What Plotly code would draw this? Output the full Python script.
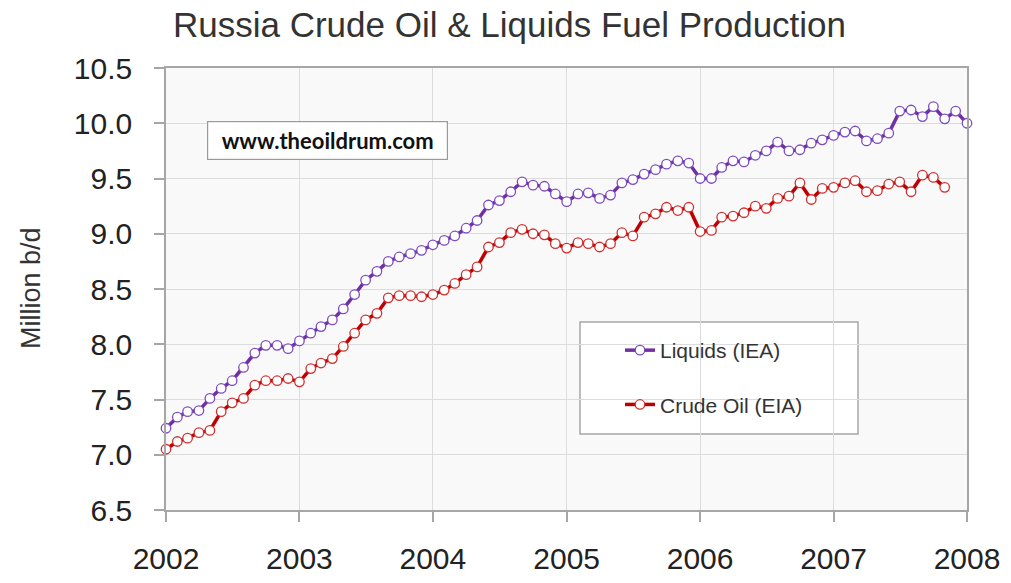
import pandas as pd
import plotly.graph_objects as go

# Monthly values, million barrels per day
liquids_iea = [
    7.24, 7.34, 7.39, 7.40, 7.51, 7.60, 7.67, 7.79, 7.92, 7.99, 7.99, 7.96,   # 2002
    8.03, 8.10, 8.16, 8.22, 8.32, 8.45, 8.58, 8.66, 8.75, 8.79, 8.82, 8.85,   # 2003
    8.90, 8.94, 8.98, 9.05, 9.12, 9.26, 9.30, 9.38, 9.47, 9.44, 9.43, 9.36,   # 2004
    9.29, 9.36, 9.37, 9.32, 9.35, 9.46, 9.49, 9.54, 9.58, 9.63, 9.66, 9.64,   # 2005
    9.50, 9.50, 9.60, 9.66, 9.65, 9.71, 9.75, 9.83, 9.75, 9.76, 9.82, 9.85,   # 2006
    9.89, 9.92, 9.93, 9.84, 9.86, 9.91, 10.11, 10.12, 10.06, 10.15, 10.04, 10.11,  # 2007
    10.00,                                                                    # 2008
]
crude_eia = [
    7.05, 7.12, 7.15, 7.20, 7.22, 7.39, 7.47, 7.51, 7.63, 7.67, 7.67, 7.69,   # 2002
    7.66, 7.78, 7.83, 7.87, 7.98, 8.10, 8.22, 8.28, 8.42, 8.44, 8.44, 8.43,   # 2003
    8.45, 8.49, 8.55, 8.63, 8.70, 8.88, 8.92, 9.01, 9.04, 9.00, 8.99, 8.91,   # 2004
    8.87, 8.92, 8.91, 8.88, 8.91, 9.01, 8.98, 9.15, 9.18, 9.24, 9.21, 9.24,   # 2005
    9.02, 9.03, 9.15, 9.16, 9.19, 9.25, 9.23, 9.32, 9.34, 9.46, 9.31, 9.41,   # 2006
    9.42, 9.46, 9.48, 9.38, 9.39, 9.45, 9.47, 9.38, 9.53, 9.51, 9.42,         # 2007
]
liquids_months = pd.date_range("2002-01-01", periods=len(liquids_iea), freq="MS")
crude_months = pd.date_range("2002-01-01", periods=len(crude_eia), freq="MS")

year_ticks = pd.date_range("2002-01-01", "2008-01-01", freq="YS")
year_labels = ["2002", "2003", "2004", "2005", "2006", "2007", "2008"]
y_ticks = [6.5, 7.0, 7.5, 8.0, 8.5, 9.0, 9.5, 10.0, 10.5]

PURPLE = "#7030a0"
RED = "#c00000"
FONT = "Liberation Sans, Arial, sans-serif"

fig = go.Figure()
fig.add_trace(go.Scatter(
    x=liquids_months, y=liquids_iea, name="Liquids (IEA)", mode="lines+markers",
    line=dict(color=PURPLE, width=3.5),
    marker=dict(symbol="circle", size=9.5, color="white", line=dict(color="#7d4cc4", width=1.3)),
    cliponaxis=False, legendgroup="a",
))
fig.add_trace(go.Scatter(
    x=crude_months, y=crude_eia, name="Crude Oil (EIA)", mode="lines+markers",
    line=dict(color=RED, width=3.5),
    marker=dict(symbol="circle", size=9.5, color="white", line=dict(color="#d03030", width=1.3)),
    cliponaxis=False, legendgroup="b",
))

# The page body has an 8 px default margin: work in screen pixels, offset by 8.
OFF = 8
W, H = 1011 - OFF, 583 - OFF
L, T = 166 - OFF, 68 - OFF
R = W - (967 - OFF)
B = H - (510 - OFF)
pw = W - L - R
ph = H - T - B


def px_x(x):
    return (x - OFF - L) / pw


def px_y(y):
    return 1 - (y - OFF - T) / ph


fig.update_layout(
    width=W, height=H,
    margin=dict(l=L, r=R, t=T, b=B, autoexpand=False),
    paper_bgcolor="white",
    plot_bgcolor="#f9f9f9",
    font=dict(family=FONT, color="#222222"),
    title=dict(text="Russia Crude Oil & Liquids Fuel Production",
               x=0.5, xanchor="center", xref="container",
               y=1 - 17 / H, yanchor="middle", yref="container",
               font=dict(size=35, color="#333333", family=FONT)),
    showlegend=True,
    legend=dict(x=px_x(620), xanchor="left", y=px_y(330),
                yanchor="top", bgcolor="rgba(0,0,0,0)", borderwidth=0,
                font=dict(size=21, color="#333333", family=FONT),
                traceorder="grouped", tracegroupgap=24, itemwidth=30),
    xaxis=dict(
        range=[year_ticks[0], year_ticks[-1]],
        tickvals=list(year_ticks), ticktext=year_labels,
        showgrid=True, gridcolor="#dcdcdc", gridwidth=1,
        showline=True, linecolor="#a6a6a6", linewidth=1.5, mirror=True,
        ticks="outside", ticklen=10, tickcolor="#a6a6a6", tickwidth=1.5,
        tickfont=dict(size=30, color="#222222"), ticklabelstandoff=11,
        zeroline=False, automargin=False,
    ),
    yaxis=dict(
        range=[6.5, 10.5], tickvals=y_ticks, tickformat=".1f",
        showgrid=True, gridcolor="#dcdcdc", gridwidth=1,
        showline=True, linecolor="#a6a6a6", linewidth=1.5, mirror=True,
        ticks="outside", ticklen=10, tickcolor="#a6a6a6", tickwidth=1.5,
        tickfont=dict(size=30, color="#222222"), ticklabelstandoff=16,
        zeroline=False, automargin=False,
    ),
)

# Legend frame
fig.add_shape(type="rect", xref="paper", yref="paper",
              x0=px_x(580), x1=px_x(858), y0=px_y(434), y1=px_y(322),
              line=dict(color="#a6a6a6", width=1.5), fillcolor="white", layer="below")

# Watermark box
fig.add_annotation(text="<b>www.theoildrum.com</b>", xref="paper", yref="paper",
                   x=px_x(207), xanchor="left", y=px_y(121), yanchor="top",
                   showarrow=False, font=dict(size=22, color="#111111", family="Lato, sans-serif"),
                   bgcolor="white", bordercolor="#9a9a9a", borderwidth=1.2,
                   width=239, height=37, align="center", borderpad=0)

# Y axis title
fig.add_annotation(text="Million b/d", xref="paper", yref="paper",
                   x=px_x(31), y=px_y(288), xanchor="center", yanchor="middle",
                   textangle=-90, showarrow=False,
                   font=dict(size=27, color="#333333", family=FONT))

fig.write_html("out.html")
